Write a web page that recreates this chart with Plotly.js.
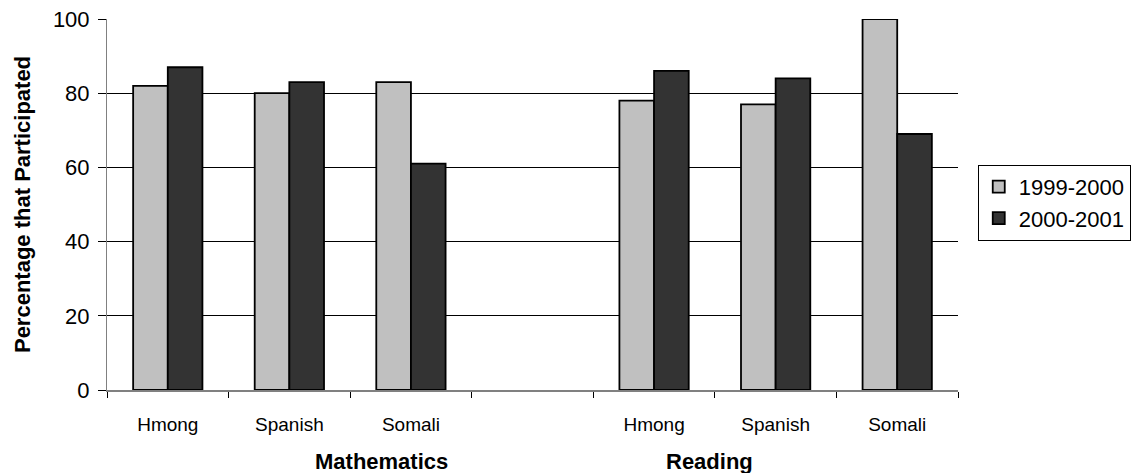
<!DOCTYPE html>
<html>
<head>
<meta charset="utf-8">
<script src="https://cdn.plot.ly/plotly-3.0.1.min.js"></script>
<style>
  html, body { margin: 0; padding: 0; background: #ffffff; }
  #chart { width: 1143px; height: 473px; }
</style>
</head>
<body>
<div id="chart"></div>
<script>
// Student groups shown within each subject
const categories = ['Hmong', 'Spanish', 'Somali'];
const subjects = ['Mathematics', 'Reading'];
const years = ['1999-2000', '2000-2001'];

// Percentage of students that participated, per subject and group
const math1999 = [82, 80, 83];
const math2000 = [87, 83, 61];
const read1999 = [78, 77, 100];
const read2000 = [86, 84, 69];

const seriesBySubject = [
  [math1999, math2000],
  [read1999, read2000]
];

// Each subject occupies a block of slots, separated by one empty slot
const slotsPerSubject = categories.length + 1;
const totalSlots = subjects.length * slotsPerSubject - 1;

const xs = [];
const labels = [];
subjects.forEach((s, si) => {
  categories.forEach((c, ci) => {
    xs.push(si * slotsPerSubject + ci);
    labels.push(c);
  });
});

const colors = ['#c0c0c0', '#333333'];
const FONT = 'Liberation Sans, Arial, sans-serif';

const traces = years.map((yr, yi) => {
  const ys = [];
  seriesBySubject.forEach(pair => pair[yi].forEach(v => ys.push(v)));
  return {
    type: 'bar',
    name: yr,
    legendgroup: yr,
    x: xs,
    y: ys,
    marker: { color: colors[yi], line: { color: '#000000', width: 1.8 } },
    hoverinfo: 'x+y'
  };
});

// Tick marks sit on the slot boundaries
const boundaries = [];
for (let i = 0; i <= totalSlots; i++) boundaries.push(i - 0.5);

const layout = {
  width: 1143,
  height: 473,
  margin: { l: 107, r: 174, t: 19, b: 83 },
  paper_bgcolor: '#ffffff',
  plot_bgcolor: '#ffffff',
  barmode: 'group',
  bargap: 0.43,
  bargroupgap: 0,
  font: { family: FONT, color: '#000000' },
  xaxis: {
    range: [-0.5, totalSlots - 0.5],
    tickmode: 'array',
    tickvals: xs,
    ticktext: labels,
    ticks: '',
    ticklabelstandoff: 16,
    tickfont: { size: 19, family: FONT, color: '#000000' },
    showline: true,
    linecolor: '#808080',
    linewidth: 2,
    showgrid: false,
    zeroline: false,
    fixedrange: true,
    minor: {
      tickmode: 'array',
      tickvals: boundaries,
      ticks: 'outside',
      ticklen: 6,
      tickwidth: 1,
      tickcolor: '#000000',
      showgrid: false
    }
  },
  yaxis: {
    range: [0, 100],
    tickmode: 'linear',
    tick0: 0,
    dtick: 20,
    ticks: 'outside',
    ticklen: 8,
    tickwidth: 1,
    tickcolor: '#000000',
    ticklabelstandoff: 4,
    tickfont: { size: 22, family: FONT, color: '#000000' },
    showline: true,
    linecolor: '#808080',
    linewidth: 1,
    showgrid: true,
    gridcolor: '#000000',
    gridwidth: 1,
    zeroline: false,
    fixedrange: true,
    title: {
      text: 'Percentage that Participated',
      font: { size: 22, family: FONT, color: '#000000', weight: 'bold' },
      standoff: 16
    }
  },
  legend: {
    x: 1.0232,
    y: 0.607,
    xanchor: 'left',
    yanchor: 'top',
    bgcolor: '#ffffff',
    bordercolor: '#000000',
    borderwidth: 1,
    tracegroupgap: 9,
    traceorder: 'normal',
    font: { size: 22, family: FONT, color: '#000000' }
  },
  annotations: subjects.map((s, i) => ({
    text: '<b>' + s + '</b>',
    xref: 'paper',
    yref: 'paper',
    x: [0.3225, 0.7077][i],
    y: -0.194,
    xanchor: 'center',
    yanchor: 'middle',
    showarrow: false,
    font: { size: 22, family: FONT, color: '#000000' }
  })),
  showlegend: true
};

Plotly.newPlot('chart', traces, layout, { displayModeBar: false, staticPlot: true });
</script>
</body>
</html>
